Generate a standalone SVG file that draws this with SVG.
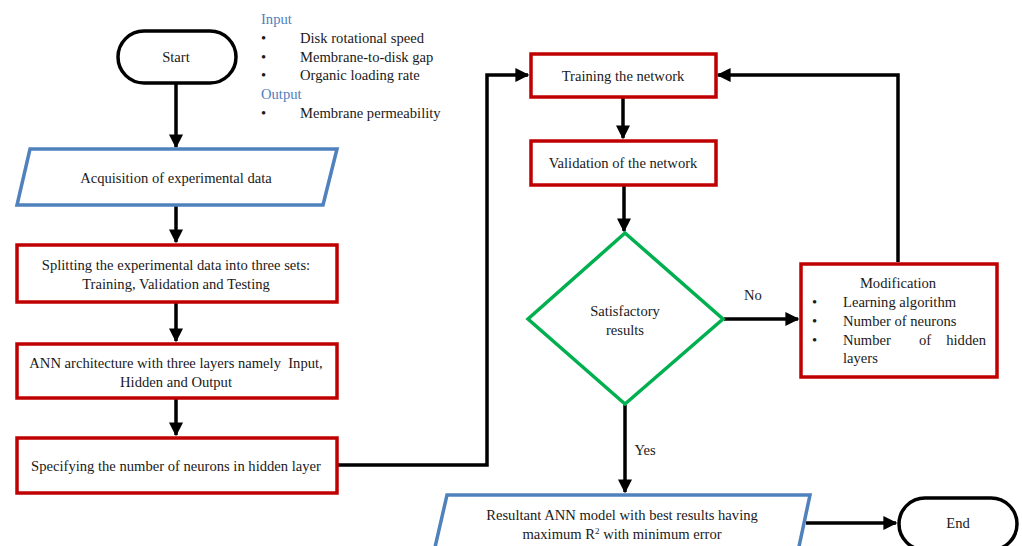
<svg xmlns="http://www.w3.org/2000/svg" width="1022" height="546" viewBox="0 0 1022 546" font-family="'Liberation Serif', 'Times New Roman', serif">
<defs>
<marker id="ah" viewBox="0 0 10 10" refX="9" refY="5" markerWidth="4" markerHeight="4" orient="auto" markerUnits="strokeWidth">
<path d="M0,0 L10,5 L0,10 z" fill="#000"/>
</marker>
<style>
text{font-family:'Liberation Serif','Times New Roman',serif;font-size:14.6px;fill:#1a1a1a}
.c{text-anchor:middle}
.blue{fill:#4f81bd}
.term{fill:#fff;stroke:#000;stroke-width:3.5}
.red{fill:#fff;stroke:#c00000;stroke-width:3.5}
.par{fill:#fff;stroke:#4f81bd;stroke-width:3.5}
.dia{fill:#fff;stroke:#00b050;stroke-width:3.5}
.con{fill:none;stroke:#000;stroke-width:3.5;marker-end:url(#ah)}
</style>
</defs>
<rect width="1022" height="546" fill="#fff"/>
<g id="connectors">
<path class="con" d="M176,83 V147"/>
<path class="con" d="M176,206 V242"/>
<path class="con" d="M176,303 V341"/>
<path class="con" d="M176,399 V435"/>
<path class="con" d="M338,465 H487 V75 H528"/>
<path class="con" d="M623,98 V138"/>
<path class="con" d="M624,186 V231"/>
<path class="con" d="M724,319 H798"/>
<path class="con" d="M898,262 V75 H718"/>
<path class="con" d="M625,405 V492"/>
<path class="con" d="M806,523 H896"/>
<text x="753" y="300" class="c">No</text>
<text x="645" y="455" class="c">Yes</text>
</g>
<g id="legend">
<text x="261" y="24" class="blue">Input</text>
<text x="261" y="43">•</text><text x="300" y="43">Disk rotational speed</text>
<text x="261" y="62">•</text><text x="300" y="62">Membrane-to-disk gap</text>
<text x="261" y="80">•</text><text x="300" y="80">Organic loading rate</text>
<text x="261" y="99" class="blue">Output</text>
<text x="261" y="118">•</text><text x="300" y="118">Membrane permeability</text>
</g>
<g id="start">
<rect class="term" x="118" y="31" width="118" height="52" rx="26"/>
<text x="176" y="62" class="c">Start</text>
</g>
<g id="acquisition">
<path class="par" d="M30,149 H337 L323,205 H17 Z"/>
<text x="176" y="183" class="c">Acquisition of experimental data</text>
</g>
<g id="splitting">
<rect class="red" x="17" y="245" width="320" height="57"/>
<text x="176" y="270" class="c">Splitting the experimental data into three sets:</text>
<text x="176" y="289" class="c">Training, Validation and Testing</text>
</g>
<g id="architecture">
<rect class="red" x="17" y="344" width="320" height="54"/>
<text x="176" y="368" class="c">ANN architecture with three layers namely&#160; Input,</text>
<text x="176" y="387" class="c">Hidden and Output</text>
</g>
<g id="specifying">
<rect class="red" x="17" y="438" width="320" height="55"/>
<text x="176" y="471" class="c">Specifying the number of neurons in hidden layer</text>
</g>
<g id="training">
<rect class="red" x="531" y="54" width="185" height="43"/>
<text x="623" y="81" class="c">Training the network</text>
</g>
<g id="validation">
<rect class="red" x="531" y="141" width="185" height="44"/>
<text x="623" y="168" class="c">Validation of the network</text>
</g>
<g id="decision">
<path class="dia" d="M625,233 L723,319 L625,404 L528,319 Z"/>
<text x="625" y="316" class="c">Satisfactory</text>
<text x="625" y="335" class="c">results</text>
</g>
<g id="modification">
<rect class="red" x="801" y="264" width="196" height="113"/>
<text x="898" y="288" class="c">Modification</text>
<text x="812" y="307">•</text><text x="843" y="307">Learning algorithm</text>
<text x="812" y="326">•</text><text x="843" y="326">Number of neurons</text>
<text x="812" y="345">•</text><text x="843" y="345">Number</text><text x="919" y="345">of</text><text x="986" y="345" text-anchor="end">hidden</text>
<text x="843" y="363">layers</text>
</g>
<g id="resultant">
<path class="par" d="M447,495 H810 L797,556 H433 Z"/>
<text x="622" y="520" class="c">Resultant ANN model with best results having</text>
<text x="622" y="539" class="c">maximum R<tspan font-size="9" dy="-5">2</tspan><tspan dy="5"> with minimum error</tspan></text>
</g>
<g id="end">
<rect class="term" x="899" y="498" width="118" height="52" rx="26"/>
<text x="958" y="528" class="c">End</text>
</g>
</svg>
